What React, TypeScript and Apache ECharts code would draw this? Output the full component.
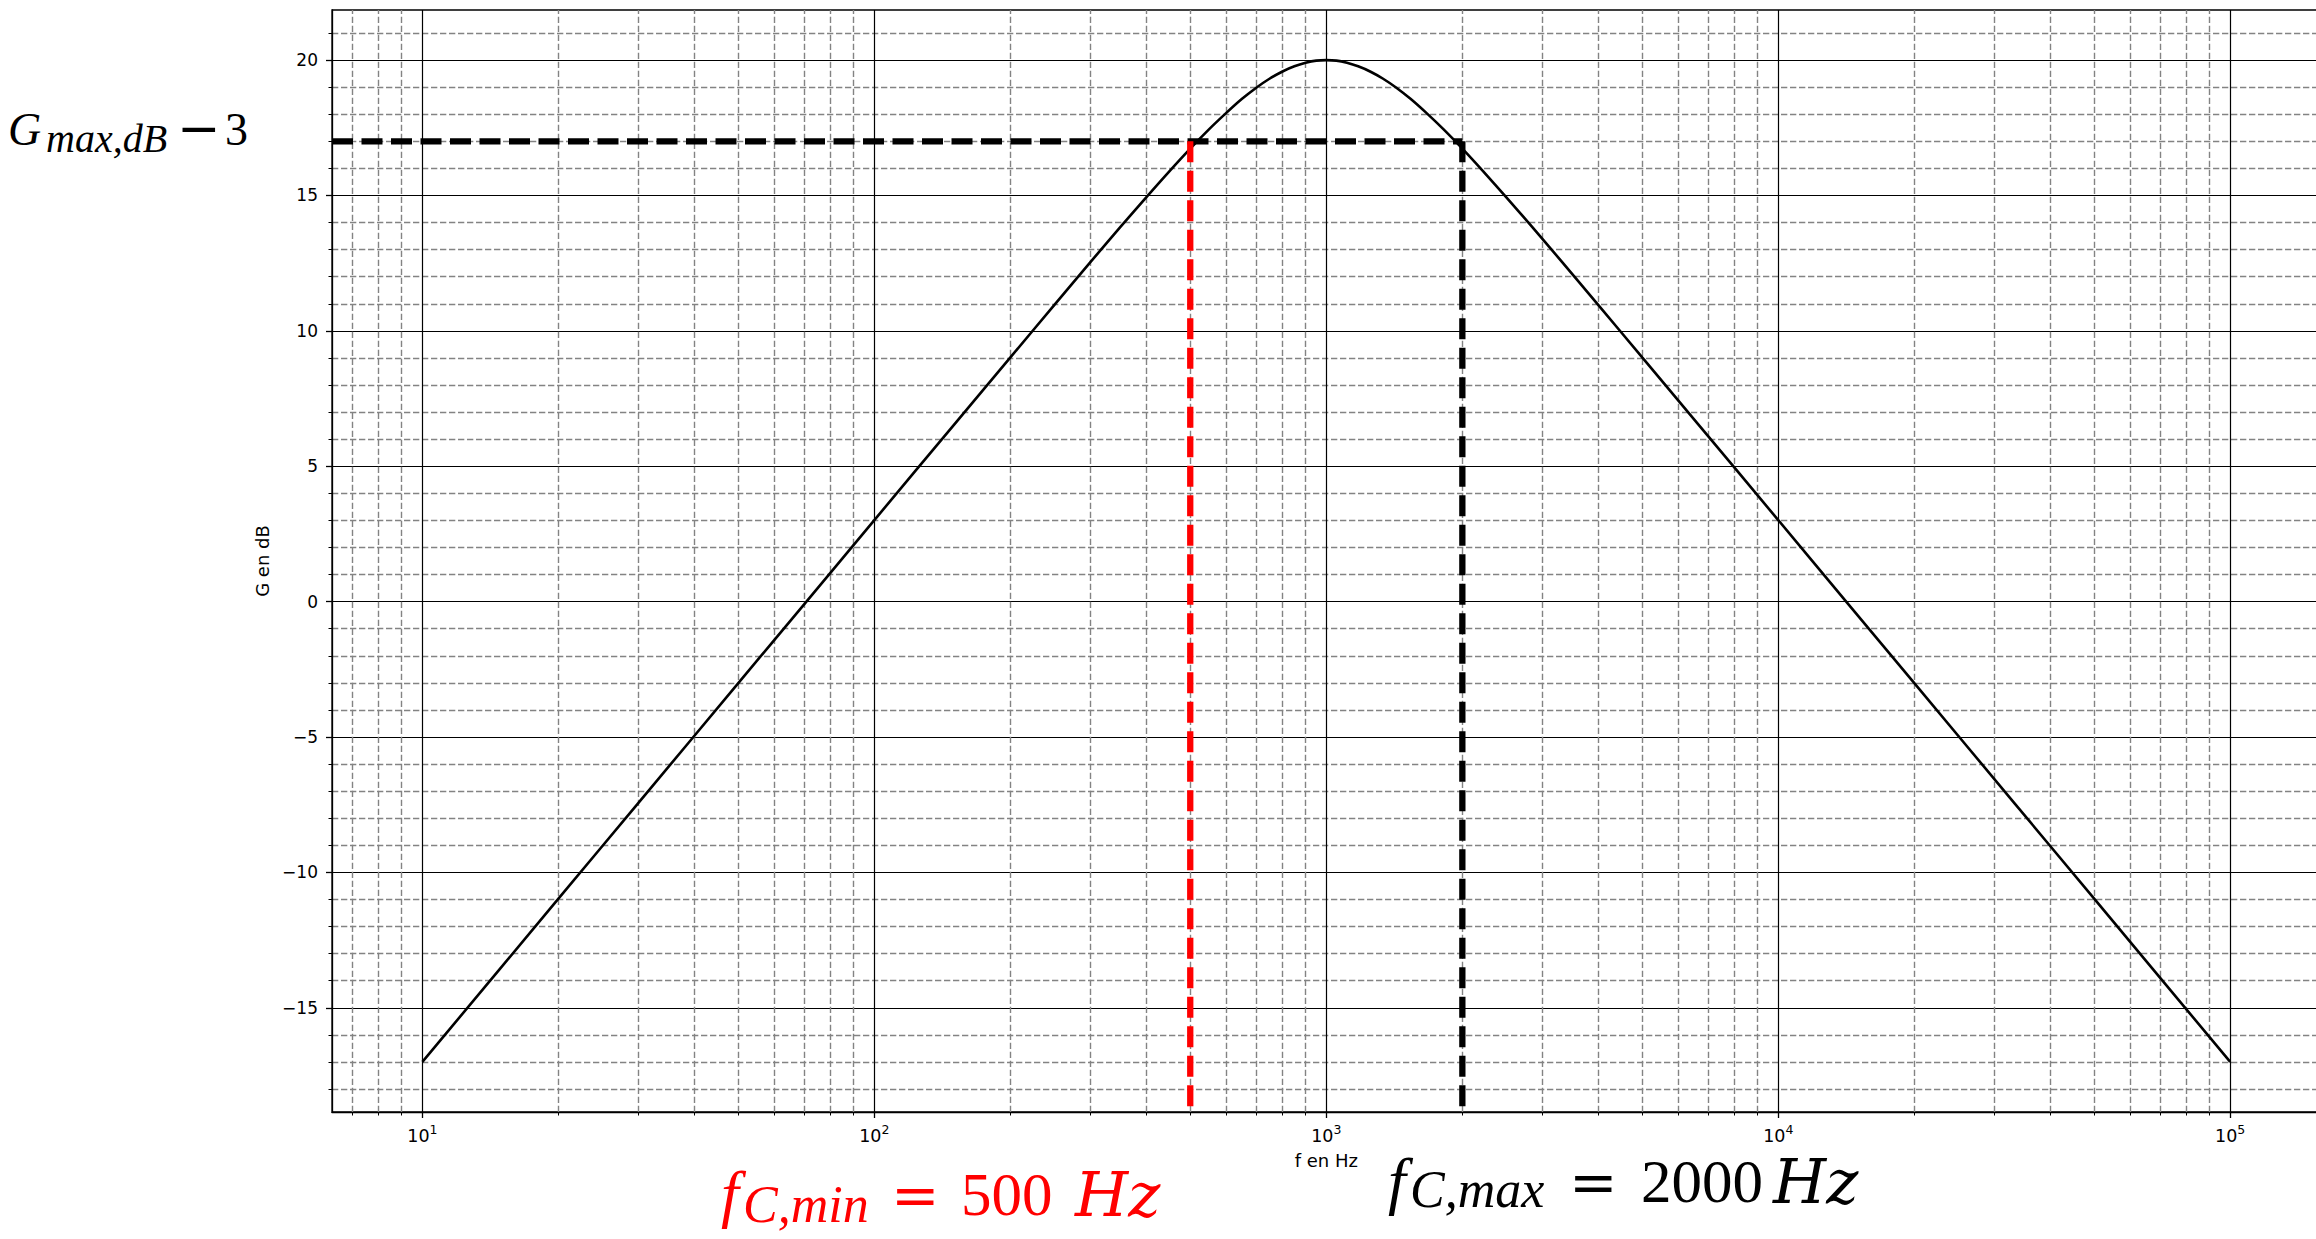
import React, { useEffect, useRef } from 'react';
import * as echarts from 'echarts';

// Gain of the band-pass filter (dB) against frequency (Hz)
const freqHz = [
  10, 20, 30, 50, 70, 100, 150, 200, 250, 300, 350, 400, 450, 500, 550, 600, 650, 700, 750, 800,
  850, 900, 950, 1000, 1053, 1111, 1176, 1250, 1333, 1429, 1538, 1667, 1818, 2000, 2222, 2500,
  2857, 3333, 4000, 5000, 6667, 10000, 14286, 20000, 33333, 50000, 100000,
];
const gainDb = [
  -17.0, -10.97, -7.45, -3.01, -0.09, 3.01, 6.53, 9.02, 10.95, 12.52, 13.83, 14.94, 15.9, 16.73,
  17.44, 18.04, 18.56, 18.98, 19.32, 19.58, 19.77, 19.9, 19.98, 20.0, 19.98, 19.9, 19.77, 19.58,
  19.32, 18.98, 18.56, 18.04, 17.44, 16.73, 15.9, 14.94, 13.83, 12.52, 10.95, 9.02, 6.53, 3.01,
  -0.09, -3.01, -7.45, -10.97, -17.0,
];

// Cut-off marks
const gainMaxDb = 20;
const cutLevelDb = gainMaxDb - 3;
const fcMinHz = 500;
const fcMaxHz = 2000;

// Axis ticks
const xDecades = [10, 100, 1000, 10000, 100000];
const xMinorTicks = [
  7, 8, 9,
  20, 30, 40, 50, 60, 70, 80, 90,
  200, 300, 400, 500, 600, 700, 800, 900,
  2000, 3000, 4000, 5000, 6000, 7000, 8000, 9000,
  20000, 30000, 40000, 50000, 60000, 70000, 80000, 90000,
];
const yMajorTicks = [-15, -10, -5, 0, 5, 10, 15, 20];
const xRange = [6.30957, 158489.3];
const yRange = [-18.85, 21.85];

const axisFont = 'DejaVu Sans';
const mathFont = '"Liberation Serif"';
const symFont = '"DejaVu Serif"';
const minorGray = '#838383';
const minorDash = [6.3, 2.7];
const minorWidth = 1.4;
const cutDash = [21, 8.5];
const cutWidth = 6.3;

function decadeExponent(v: number): number | null {
  const e = Math.round(Math.log10(v));
  return Math.abs(v - Math.pow(10, e)) < 1e-6 * v ? e : null;
}

function mathText(text: string, x: number, y: number, font: string, fill: string) {
  return {
    type: 'text',
    x,
    y,
    z: 100,
    silent: true,
    style: { text, font, fill, align: 'left', verticalAlign: 'middle', textAlign: 'left', textVerticalAlign: 'middle' },
  };
}

function buildOption() {
  const curve = freqHz.map((f, i) => [f, gainDb[i]]);
  const red = '#ff0000';

  return {
    animation: false,
    backgroundColor: '#ffffff',
    grid: {
      left: 332,
      top: 10,
      width: 1988.6,
      height: 1102,
      show: true,
      borderColor: '#000',
      borderWidth: 1.3,
      backgroundColor: 'transparent',
      containLabel: false,
      outerBoundsMode: 'none',
    },
    xAxis: [
      {
        type: 'log',
        logBase: 10,
        min: xRange[0],
        max: xRange[1],
        position: 'bottom',
        name: 'f en Hz',
        nameLocation: 'middle',
        nameGap: 39,
        nameTextStyle: { fontFamily: axisFont, fontSize: 18, color: '#000' },
        axisLine: { show: true, onZero: false, lineStyle: { color: '#000', width: 1.3 } },
        axisTick: { show: true, inside: false, length: 6, customValues: xDecades, lineStyle: { color: '#000', width: 1.3 } },
        axisLabel: {
          show: true,
          margin: 11,
          customValues: xDecades,
          formatter: (v: number) => {
            const e = decadeExponent(v);
            return e === null ? '' : `{b|10}{s|${e}}`;
          },
          rich: {
            b: { fontFamily: axisFont, fontSize: 17.5, lineHeight: 22, color: '#000', verticalAlign: 'bottom' },
            s: { fontFamily: axisFont, fontSize: 12.5, lineHeight: 12, color: '#000', verticalAlign: 'top' },
          },
        },
        splitLine: { show: true, lineStyle: { color: '#000', width: 1.2 } },
        minorTick: { show: false },
        minorSplitLine: { show: false },
      },
      {
        // carries the short ticks of the 2..9 sub-decades
        type: 'log',
        logBase: 10,
        min: xRange[0],
        max: xRange[1],
        position: 'bottom',
        axisLine: { show: false, onZero: false },
        axisTick: { show: true, inside: false, length: 3.5, customValues: xMinorTicks, lineStyle: { color: '#000', width: 1 } },
        axisLabel: { show: false },
        splitLine: { show: false },
        minorTick: { show: false },
        minorSplitLine: { show: false },
      },
    ],
    yAxis: {
      type: 'value',
      min: yRange[0],
      max: yRange[1],
      minInterval: 5,
      maxInterval: 5,
      name: 'G en dB',
      nameLocation: 'middle',
      nameGap: 61,
      nameTextStyle: { fontFamily: axisFont, fontSize: 18, color: '#000' },
      axisLine: { show: true, onZero: false, lineStyle: { color: '#000', width: 1.3 } },
      axisTick: { show: true, inside: false, length: 6, customValues: yMajorTicks, lineStyle: { color: '#000', width: 1.3 } },
      axisLabel: {
        show: true,
        margin: 14,
        customValues: yMajorTicks,
        fontFamily: axisFont,
        fontSize: 17,
        color: '#000',
        formatter: (v: number) => {
          const r = Math.round(v);
          if (Math.abs(v - r) > 1e-6 || r % 5 !== 0) return '';
          return String(r).replace('-', '\u2212');
        },
      },
      splitLine: { show: true, lineStyle: { color: '#000', width: 1.2 } },
      minorTick: { show: true, splitNumber: 5, length: 3.5, lineStyle: { color: '#000', width: 1 } },
      minorSplitLine: { show: true, lineStyle: { color: minorGray, type: minorDash, width: minorWidth } },
    },
    series: [
      {
        type: 'line',
        name: 'G',
        xAxisIndex: 0,
        yAxisIndex: 0,
        data: curve,
        symbol: 'none',
        showSymbol: false,
        smooth: 0.3,
        silent: true,
        z: 3,
        lineStyle: { color: '#000', width: 2.6 },
        markLine: {
          silent: true,
          z: 1,
          symbol: ['none', 'none'],
          precision: 6,
          label: { show: false },
          emphasis: { disabled: true },
          lineStyle: { color: minorGray, type: minorDash, width: minorWidth },
          data: xMinorTicks.map((v) => ({ xAxis: v })),
        },
      },
      {
        type: 'line',
        name: 'niveau',
        data: [[xRange[0], cutLevelDb], [fcMaxHz, cutLevelDb]],
        symbol: 'none',
        silent: true,
        z: 5,
        lineStyle: { color: '#000', width: cutWidth, type: cutDash },
      },
      {
        type: 'line',
        name: 'fcmin',
        data: [[fcMinHz, cutLevelDb], [fcMinHz, yRange[0]]],
        symbol: 'none',
        silent: true,
        z: 6,
        lineStyle: { color: red, width: cutWidth, type: cutDash },
      },
      {
        type: 'line',
        name: 'fcmax',
        data: [[fcMaxHz, cutLevelDb], [fcMaxHz, yRange[0]]],
        symbol: 'none',
        silent: true,
        z: 6,
        lineStyle: { color: '#000', width: cutWidth, type: cutDash },
      },
    ],
    graphic: [
      // G_max,dB − 3
      mathText('G', 8, 129.5, `italic 46px ${mathFont}`, '#000'),
      mathText('max,dB', 46, 138.5, `italic 40px ${mathFont}`, '#000'),
      mathText('\u2212', 177, 127.5, `52px ${symFont}`, '#000'),
      mathText('3', 225, 129.5, `46px ${mathFont}`, '#000'),
      // f_C,min = 500 Hz
      mathText('f', 721, 1193.7, `italic 64px ${mathFont}`, red),
      mathText('C,min', 743, 1204.5, `italic 52px ${mathFont}`, red),
      mathText('=', 891, 1194.9, `58px ${symFont}`, red),
      mathText('500', 961, 1194.4, `61px ${mathFont}`, red),
      mathText('Hz', 1075, 1194.2, `italic 61px ${symFont}`, red),
      // f_C,max = 2000 Hz
      mathText('f', 1388, 1180.7, `italic 64px ${mathFont}`, '#000'),
      mathText('C,max', 1410, 1189.5, `italic 52px ${mathFont}`, '#000'),
      mathText('=', 1569, 1181.9, `58px ${symFont}`, '#000'),
      mathText('2000', 1641, 1181.4, `61px ${mathFont}`, '#000'),
      mathText('Hz', 1773, 1181.2, `italic 61px ${symFont}`, '#000'),
    ],
  };
}

export default function App() {
  const ref = useRef<HTMLDivElement>(null);

  useEffect(() => {
    if (!ref.current) return;
    const chart = echarts.init(ref.current, null, { renderer: 'svg' });
    chart.setOption(buildOption() as any);
    return () => {
      chart.dispose();
    };
  }, []);

  return (
    <div
      ref={ref}
      style={{ position: 'fixed', left: 0, top: 0, width: 2316, height: 1239, background: '#ffffff' }}
    />
  );
}
